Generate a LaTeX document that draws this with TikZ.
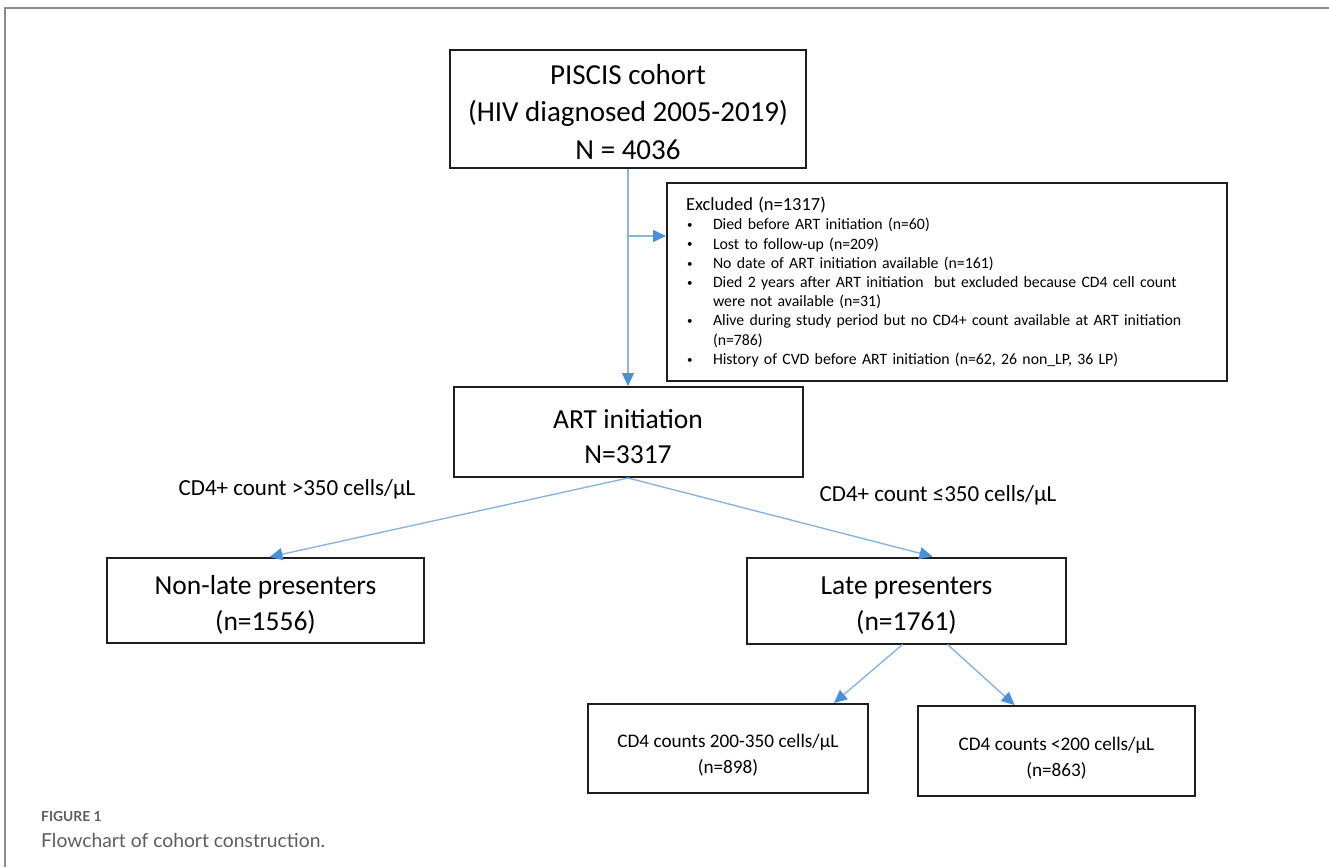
\documentclass[tikz,border=0pt]{standalone}
\usepackage{fontspec}
\setmainfont{Carlito}
\newfontfamily\capfont{Lato}
\usetikzlibrary{arrows.meta}
\definecolor{lineblue}{HTML}{8AB4DE}
\definecolor{tipblue}{HTML}{4A8FD8}
\definecolor{framegray}{HTML}{8C8C8C}
\definecolor{capgray}{HTML}{5E5E5E}
\definecolor{boxline}{HTML}{1E1E1E}
\newcommand\exitem{\par\hangindent=27pt\hangafter=1\noindent\makebox[27pt][l]{\hspace{1pt}\raisebox{1.2pt}{\fontsize{11}{11}\selectfont\textbullet}}}
\newcommand\upstrut[1]{\rule{0pt}{#1}}
\tikzset{
  bigbox/.style={draw=boxline, line width=2pt, align=center, inner sep=0pt,
    font=\fontsize{29}{37.5}\selectfont},
  midbox/.style={draw=boxline, line width=2pt, align=center, inner sep=0pt,
    font=\fontsize{27.5}{35.5}\selectfont},
  smallbox/.style={draw=boxline, line width=2pt, align=center, inner sep=0pt,
    font=\fontsize{19.2}{26}\selectfont},
  exbox/.style={draw=boxline, line width=2pt, inner xsep=19pt, inner ysep=0pt,
    text width=522pt, align=left, font=\fontsize{15.8}{19.2}\selectfont},
  lbl/.style={inner sep=0pt, font=\fontsize{23}{27}\selectfont},
  arr/.style={draw=lineblue, line width=1.4pt,
    -{Triangle[length=13pt,width=12pt,color=tipblue]}},
}
\begin{document}
\begin{tikzpicture}[x=1pt,y=-1pt]
\useasboundingbox (0,0) rectangle (1329,867);
\fill[white] (0,0) rectangle (1329,867);
% frame
\draw[framegray, line width=2pt] (1329,8) -- (5,8) -- (5,867);

% boxes
\node[bigbox, minimum width=356pt, minimum height=118pt] (pis) at (628,109)
  {\upstrut{26pt}PISCIS cohort\\(HIV diagnosed 2005-2019)\\N = 4036};
\node[midbox, minimum width=349pt, minimum height=90pt] (art) at (628,432)
  {\upstrut{28pt}ART initiation\\N=3317};
\node[exbox, minimum width=560pt, minimum height=198pt] (excl) at (947,282)
  {\noindent{\fontsize{18.5}{20}\selectfont Excluded (n=1317)}
   \exitem Died before ART initiation (n=60)
   \exitem Lost to follow-up (n=209)
   \exitem No date of ART initiation available (n=161)
   \exitem Died 2 years after ART initiation\ \ but excluded because CD4 cell count\newline were not available (n=31)
   \exitem Alive during study period but no CD4+ count available at ART initiation\newline (n=786)
   \exitem History of CVD before ART initiation (n=62, 26 non\_LP, 36 LP)\par};
\node[midbox, minimum width=317pt, minimum height=85pt] (nonlate) at (265.5,600.5)
  {\upstrut{28pt}Non-late presenters\\(n=1556)};
\node[midbox, minimum width=319pt, minimum height=86pt] (late) at (906.5,600.5)
  {\upstrut{28pt}Late presenters\\(n=1761)};
\node[smallbox, minimum width=280pt, minimum height=89pt] (cdA) at (728,748.5)
  {\upstrut{27pt}CD4 counts 200-350 cells/µL\\(n=898)};
\node[smallbox, minimum width=277pt, minimum height=90pt] (cdB) at (1056.5,751)
  {\upstrut{27pt}CD4 counts <200 cells/µL\\(n=863)};

% labels
\node[lbl] (lblA) at (297,489) {CD4+ count >350 cells/µL};
\node[lbl] (lblB) at (938,495) {CD4+ count ≤350 cells/µL};

% connectors
\coordinate (br) at (628,236);
\draw[arr] (pis.south) -- (art.north);
\draw[arr] (br) -- (br -| excl.west);
\draw[arr] (art.south) -- ([xshift=4pt]nonlate.north);
\draw[arr] (art.south) -- ([xshift=26pt]late.north);
\draw[arr] ([xshift=-4pt]late.south) -- ([xshift=106pt]cdA.north);
\draw[arr] ([xshift=41pt]late.south) -- ([xshift=-42pt]cdB.north);

% caption
\node[anchor=west, inner sep=0pt, text=capgray, font=\capfont\bfseries\fontsize{13.8}{15}\selectfont] (figlbl) at (41,816) {FIGURE 1};
\node[anchor=west, inner sep=0pt, text=capgray, font=\capfont\fontsize{19.3}{23}\selectfont] (cap) at (41,840) {Flowchart of cohort construction.};
\end{tikzpicture}
\end{document}
